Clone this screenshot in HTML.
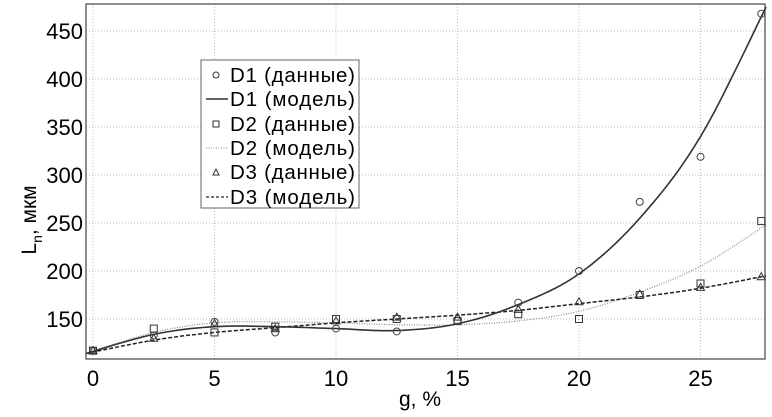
<!DOCTYPE html>
<html><head><meta charset="utf-8"><style>
body{margin:0;background:#fff;}
svg text{font-family:"Liberation Sans",sans-serif;fill:#000;}
</style></head><body>
<svg id="s" width="772" height="412" xmlns="http://www.w3.org/2000/svg">
<rect x="0" y="0" width="772" height="412" fill="#fff"/>
<g id="grid" stroke="#bbb" stroke-dasharray="1,2" stroke-width="1"></g>
<rect x="86" y="4" width="679" height="355" fill="none" stroke="#444" stroke-width="1.2"/>
<g id="ticks" font-size="22"></g>
<text x="420" y="406" font-size="21" text-anchor="middle">g, %</text>
<text transform="translate(36,220) rotate(-90)" font-size="21" text-anchor="middle">L<tspan font-size="14" dy="6">n</tspan><tspan dy="-6">, мкм</tspan></text>
<g id="series"></g>
<g font-size="20.5">
<rect x="201" y="60" width="158" height="148" fill="#fff" stroke="#666"/>
<circle cx="216" cy="75" r="3" fill="none" stroke="#333"/>
<text x="230" y="82" textLength="125">D1 (данные)</text>
<line x1="206" y1="99" x2="228" y2="99" stroke="#333" stroke-width="1.5"/>
<text x="230" y="106" textLength="125">D1 (модель)</text>
<rect x="213" y="121" width="6" height="6" fill="none" stroke="#333"/>
<text x="230" y="131" textLength="125">D2 (данные)</text>
<line x1="206" y1="148" x2="228" y2="148" stroke="#888" stroke-dasharray="1,1.5"/>
<text x="230" y="155" textLength="125">D2 (модель)</text>
<path d="M213 175 L216 169 L219 175 Z" fill="none" stroke="#333"/>
<text x="230" y="179" textLength="125">D3 (данные)</text>
<line x1="206" y1="197" x2="228" y2="197" stroke="#222" stroke-dasharray="3,2" stroke-width="1.3"/>
<text x="230" y="204" textLength="125">D3 (модель)</text>
</g>
</svg>
<script>
const X=g=>93+g*24.3, Y=v=>319-(v-150)*0.96;
const NS="http://www.w3.org/2000/svg";
function el(p,t,a){const e=document.createElementNS(NS,t);for(const k in a)e.setAttribute(k,a[k]);p.appendChild(e);return e;}
const grid=document.getElementById('grid'),ticks=document.getElementById('ticks'),ser=document.getElementById('series');
for(let g=0;g<=25;g+=5){el(grid,'line',{x1:X(g),x2:X(g),y1:4,y2:359});const t=el(ticks,'text',{x:X(g),y:386,'text-anchor':'middle'});t.textContent=g;}
for(let v=150;v<=450;v+=50){el(grid,'line',{x1:86,x2:765,y1:Y(v),y2:Y(v)});const t=el(ticks,'text',{x:83,y:Y(v)+8,'text-anchor':'end'});t.textContent=v;}
function spline(pts){let s=[];for(let i=0;i<pts.length-1;i++){const p0=pts[Math.max(0,i-1)],p1=pts[i],p2=pts[i+1],p3=pts[Math.min(pts.length-1,i+2)];
for(let k=0;k<10;k++){const t=k/10,t2=t*t,t3=t2*t;const f=(a,b,c,d)=>0.5*(2*b+(-a+c)*t+(2*a-5*b+4*c-d)*t2+(-a+3*b-3*c+d)*t3);
s.push([f(p0[0],p1[0],p2[0],p3[0]),f(p0[1],p1[1],p2[1],p3[1])]);}}s.push(pts[pts.length-1]);return s.map(p=>X(p[0]).toFixed(1)+','+Y(p[1]).toFixed(1)).join(' ');}
const m1=[[-0.3,114],[2.5,134],[5,142],[7.5,142],[10,140],[12.5,138],[15,145],[17.5,165],[20,197],[22.5,255],[25,340],[27.7,475]];
const m2=[[-0.3,114],[2.5,136],[5,146],[7.5,147],[10,146],[12.5,144],[15,144],[17.5,148],[20,158],[22.5,178],[25,205],[27.7,248]];
const m3=[[-0.3,114],[2.5,128],[5,136],[7.5,141],[10,146],[12.5,150],[15,154],[17.5,159],[20,166],[22.5,173],[25,182],[27.7,195]];
el(ser,'polyline',{points:spline(m2),fill:'none',stroke:'#888','stroke-dasharray':'1,1.5','stroke-width':1.2});
el(ser,'polyline',{points:spline(m3),fill:'none',stroke:'#222','stroke-dasharray':'4,2','stroke-width':1.5});
el(ser,'polyline',{points:spline(m1),fill:'none',stroke:'#333','stroke-width':1.6});
const gs=[0,2.5,5,7.5,10,12.5,15,17.5,20,22.5,25,27.5];
const d1=[117,133,147,136,140,137,148,167,200,272,319,468];
const d2=[117,140,136,142,150,150,148,155,150,175,187,252];
const d3=[117,130,145,140,148,152,152,160,168,176,183,194];
gs.forEach((g,i)=>{const x=X(g);
el(ser,'circle',{cx:x,cy:Y(d1[i]),r:3.5,fill:'none',stroke:'#444'});
el(ser,'rect',{x:x-3.5,y:Y(d2[i])-3.5,width:7,height:7,fill:'none',stroke:'#333'});
const y=Y(d3[i]);el(ser,'path',{d:`M${x-4} ${y+3} L${x} ${y-4} L${x+4} ${y+3} Z`,fill:'none',stroke:'#333'});});
</script>
</body></html>
